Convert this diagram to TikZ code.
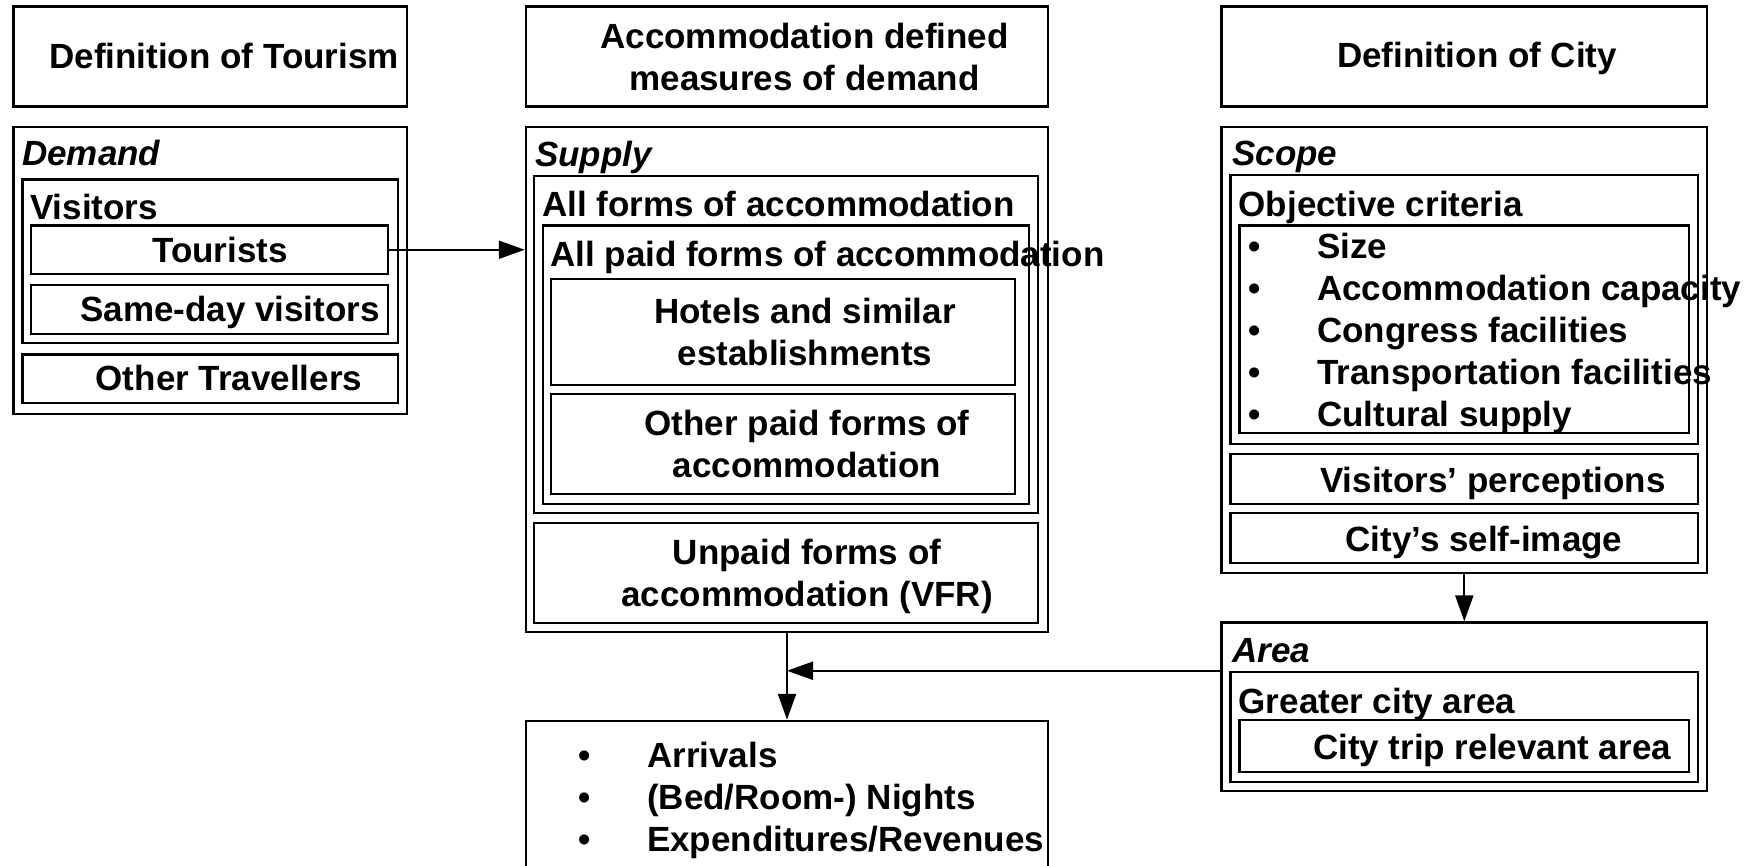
\documentclass[tikz,border=0pt]{standalone}
\usepackage{fontspec}
\setmainfont{Liberation Sans}
\usetikzlibrary{arrows.meta}

\tikzset{
  frame/.style={draw, line width=2.5pt, inner sep=0pt},
  lbl/.style={font=\fontsize{35}{42}\selectfont\bfseries, inner sep=0pt},
  hd/.style={font=\fontsize{35}{42}\selectfont\bfseries\itshape, inner sep=0pt, anchor=base west},
  arr/.style={line width=2.2pt, -{Triangle[length=26pt,width=18pt]}},
}

% \frameat{name}{x1}{y1}{x2}{y2}: empty framed box between two corners
\newcommand\frameat[5]{%
  \node[frame, minimum width={(#4)-(#2)}, minimum height={(#5)-(#3)}]
    (#1) at ({((#2)+(#4))/2},{((#3)+(#5))/2}) {};}
\newcommand\bul{\makebox[69pt][l]{\textbullet}}

\begin{document}
\begin{tikzpicture}[x=1pt,y=-1pt]
\useasboundingbox (0,0) rectangle (1759,866);
\clip (0,0) rectangle (1759,866);

% Multi-line labels are anchored at the baseline of their last line.

% ---------- tourism column ----------
\frameat{tourismT}{13.5}{6.7}{407}{106.6}
\frameat{demand}{13.5}{127}{407}{414}
\frameat{visitors}{22.4}{179.5}{398}{343}
\frameat{tourists}{31}{225.5}{388}{274}
\frameat{sameday}{31}{285}{388}{334}
\frameat{others}{22.4}{354.5}{398}{403}

\node[lbl, anchor=base] (tourismL) at (224,69) {Definition of Tourism};
\node[hd] (demandL) at (22,166) {Demand};
\node[lbl, anchor=base west] (visitorsL) at (30,220) {Visitors};
\node[lbl, anchor=base] (touristsL) at (220,263) {Tourists};
\node[lbl, anchor=base] (samedayL) at (230,322) {Same-day visitors};
\node[lbl, anchor=base] (othersL) at (229,391) {Other Travellers};

% ---------- accommodation column ----------
\frameat{accT}{526}{6.7}{1048}{106.6}
\frameat{supply}{526}{127}{1048}{632}
\frameat{allforms}{534}{176}{1038}{513}
\frameat{allpaid}{543}{225.5}{1029}{504}
\frameat{hotels}{551}{279}{1015}{385}
\frameat{otherpaid}{551}{394}{1015}{494}
\frameat{unpaid}{534}{523}{1038}{623}
\frameat{results}{526}{721}{1048}{900}

\node[lbl, anchor=base, align=center] (accL) at (804.5,91) {Accommodation defined\\measures of demand};
\node[hd] (supplyL) at (535,167) {Supply};
\node[lbl, anchor=base west] (allformsL) at (542,217) {All forms of accommodation};
\node[lbl, anchor=base west] (allpaidL) at (550,267) {All paid forms of accommodation};
\node[lbl, anchor=base, align=center] (hotelsL) at (805,366) {Hotels and similar\\establishments};
\node[lbl, anchor=base, align=center] (otherpaidL) at (807,477) {Other paid forms of\\accommodation};
\node[lbl, anchor=base, align=center] (unpaidL) at (807,606) {Unpaid forms of\\accommodation (VFR)};
\node[lbl, anchor=base west, align=left] (resultsL) at (578,851)
  {\bul Arrivals\\\bul (Bed/Room-) Nights\\\bul Expenditures/Revenues};

% ---------- city column ----------
\frameat{cityT}{1221.6}{6.7}{1707}{106.6}
\frameat{scope}{1221.6}{127}{1707}{573}
\frameat{objective}{1230.6}{175}{1698}{444}
\frameat{criteria}{1239.6}{225.5}{1689}{433}
\frameat{perceptions}{1230.6}{454}{1698}{504}
\frameat{selfimage}{1230.6}{513}{1698}{563}
\frameat{area}{1221.6}{622.6}{1707}{791}
\frameat{greater}{1230.6}{672}{1698}{782}
\frameat{triparea}{1239.6}{720}{1689}{772}

\node[lbl, anchor=base] (cityL) at (1477,68) {Definition of City};
\node[hd] (scopeL) at (1232,166) {Scope};
\node[lbl, anchor=base west] (objectiveL) at (1238.5,217) {Objective criteria};
\node[lbl, anchor=base west, align=left] (criteriaL) at (1248,426)
  {\bul Size\\\bul Accommodation capacity\\\bul Congress facilities\\\bul Transportation facilities\\\bul Cultural supply};
\node[lbl, anchor=base] (perceptionsL) at (1493,492) {Visitors’ perceptions};
\node[lbl, anchor=base] (selfimageL) at (1484,551.6) {City’s self-image};
\node[hd] (areaL) at (1232,662.6) {Area};
\node[lbl, anchor=base west] (greaterL) at (1238.5,713) {Greater city area};
\node[lbl, anchor=base] (tripareaL) at (1492,759) {City trip relevant area};

% ---------- connectors ----------
\draw[arr] (tourists.east) -- (tourists.east -| supply.west);
\draw[arr] (supply.south) -- (results.north);
\coordinate (merge) at (supply.south |- greater.north);
\draw[arr] (greater.north -| area.west) -- (merge);
\draw[arr] (scope.south) -- (area.north);
\end{tikzpicture}
\end{document}
